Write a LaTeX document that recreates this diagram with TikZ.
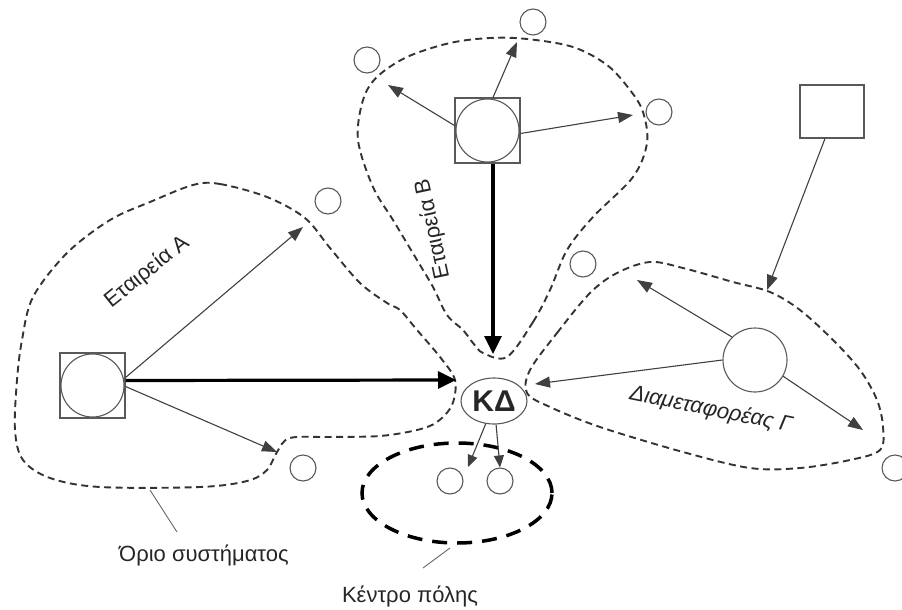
\documentclass[tikz,border=0pt]{standalone}
\usepackage{fontspec}
\setmainfont{Liberation Sans}
\usetikzlibrary{arrows.meta,shapes.geometric}
\begin{document}
\begin{tikzpicture}[x=1pt,y=-1pt,
  shp/.style={draw=black!65, line width=1.1pt, fill=white},
  sqbox/.style={shp, rectangle, minimum size=65pt, inner sep=0pt},
  bigc/.style={shp, circle, minimum size=64pt, inner sep=0pt},
  smallc/.style={shp, circle, minimum size=26pt, inner sep=0pt},
  link/.style={draw=black!75, line width=1.1pt, -{Triangle[length=15pt,width=11pt]}},
  mainlink/.style={draw=black, line width=3.2pt, -{Triangle[length=18pt,width=17pt]}},
  bound/.style={draw=black!80, line width=1.9pt, dash pattern=on 7pt off 4.5pt},
  citybound/.style={draw=black, line width=3.5pt, dash pattern=on 15pt off 10pt},
  pointer/.style={draw=black!60, line width=0.9pt},
  lbl/.style={font=\fontsize{22}{26}\selectfont, text=black!85, inner sep=0pt}
]
\useasboundingbox (0,0) rectangle (902,610);

% system boundaries
\draw[bound] plot[smooth cycle, tension=0.55] coordinates {
  (193,185) (220,184) (267,197) (305,218) (330,248) (360,283) (387,303) (400,310)
  (417,330) (440,357) (455,380) (452,405) (437,422) (417,430) (380,436) (330,437)
  (290,438) (277,452) (267,470) (247,481) (200,487) (100,487) (50,478) (23,460)
  (15,430) (17,380) (22,340) (33,297) (67,253) (110,220) (150,202)};
\draw[bound] plot[smooth cycle, tension=0.55] coordinates {
  (507,357) (533,322) (550,290) (567,250) (593,217) (633,177) (647,143) (643,112)
  (630,90) (607,65) (573,47) (527,39) (490,38) (450,43) (407,57) (377,77) (363,100)
  (358,140) (373,187) (393,220) (417,260) (433,287) (447,315) (463,330) (473,343)
  (483,353)};
\draw[bound] plot[smooth cycle, tension=0.55] coordinates {
  (530,370) (557,333) (590,293) (617,273) (650,262) (683,268) (733,282) (770,292)
  (800,310) (833,340) (860,370) (877,400) (883,427) (880,450) (850,460) (800,468)
  (750,468) (683,452) (600,427) (550,407) (527,393)};

% city centre
\draw[citybound] (457,493) ellipse [x radius=95pt, y radius=50pt];

% main nodes
\node[sqbox] (A) at (92.5,385.5) {};
\node[bigc, minimum size=63pt] (Ac) at (A) {};
\node[sqbox] (B) at (487.5,130.5) {};
\node[bigc, minimum size=63pt] (Bc) at (B) {};
\node[shp, ellipse, minimum width=66pt, minimum height=46pt, inner sep=0pt,
      font=\fontsize{30}{34}\selectfont\bfseries, text=black!85] (KD) at (494,401) {ΚΔ};
\node[bigc] (G) at (755,360) {};
\node[shp, rectangle, minimum width=64pt, minimum height=53pt, inner sep=0pt] (TR) at (832,111.5) {};

% small circles
\node[smallc] (c1) at (328,201) {};
\node[smallc] (c2) at (533,22) {};
\node[smallc] (c3) at (367,60) {};
\node[smallc] (c4) at (659,112) {};
\node[smallc] (c5) at (583,264) {};
\node[smallc] (c6) at (895,468) {};
\node[smallc] (c7) at (303,468) {};
\node[smallc] (c8) at (450,481) {};
\node[smallc] (c9) at (500,481) {};

% free ends of connectors
\coordinate (kA) at (456,380);
\coordinate (kB) at (493,354);
\coordinate (kG) at (535,384);
\coordinate (tA1) at (303,227);
\coordinate (tA2) at (277,452);
\coordinate (tB1) at (517,42);
\coordinate (tB2) at (388,85);
\coordinate (tB3) at (633,115);
\coordinate (tG1) at (637,280);
\coordinate (tG2) at (863,430);
\coordinate (tT) at (767,290);
\coordinate (tC1) at (468,467);

% connectors
\draw[mainlink] ([yshift=5pt]A.east) -- (kA);
\draw[mainlink] ([xshift=5.5pt]B.south) -- (kB);
\draw[link] ([yshift=8pt]A.east) -- (tA1);
\draw[link] ([yshift=-1pt]A.east) -- (tA2);
\draw[link] ([xshift=5.5pt]B.north) -- (tB1);
\draw[link] ([yshift=5pt]B.west) -- (tB2);
\draw[link] ([yshift=-3pt]B.east) -- (tB3);
\draw[link] (G.west) -- (kG);
\draw[link] (G.135) -- (tG1);
\draw[link] (G.-30) -- (tG2);
\draw[link] ([xshift=-7pt]TR.south) -- (tT);
\draw[link, -{Triangle[length=12pt,width=10pt]}] (KD.250) -- (tC1);
\draw[link, -{Triangle[length=12pt,width=10pt]}] (KD.275) -- (c9.north);

% labels
\node[lbl, rotate=38.8] (lA) at (147,272) {Εταιρεία Α};
\node[lbl, rotate=102] (lB) at (433,229) {Εταιρεία Β};
\node[lbl, rotate=-11.4, font=\fontsize{22}{26}\selectfont\itshape] (lG) at (711,410) {Διαμεταφορέας Γ};
\node[lbl, anchor=base] (lO) at (204,561) {Όριο συστήματος};
\node[lbl, anchor=base] (lK) at (410,602) {Κέντρο πόλης};

% pointer lines
\coordinate (ob) at (150,490);
\coordinate (oe) at (177,532);
\coordinate (kb) at (450,548);
\coordinate (ke) at (423,568);
\draw[pointer] (ob) -- (oe);
\draw[pointer] (kb) -- (ke);
\end{tikzpicture}
\end{document}
